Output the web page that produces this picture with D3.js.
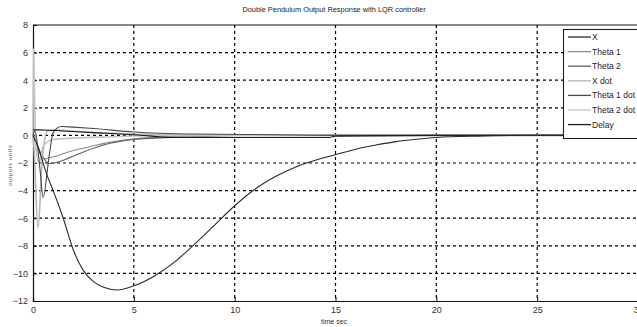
<!DOCTYPE html>
<html>
<head>
<meta charset="utf-8">
<script src="https://cdn.jsdelivr.net/npm/d3@7"></script>
<style>
  body { margin: 0; background: #fff; }
  svg { font-family: "Liberation Sans", Arial, sans-serif; }
</style>
</head>
<body>
<svg id="chart" width="637" height="327"></svg>
<script>
// tick labels
const xTicks = [0, 5, 10, 15, 20, 25, 30];
const yTicks = [8, 6, 4, 2, 0, -2, -4, -6, -8, -10, -12];

// series (time in sec, output value)
const xT      = [0, 0.25, 0.5, 0.75, 1, 1.5, 2, 2.5, 3, 3.5, 4.2, 5, 6, 7, 8, 9, 10, 11, 12, 13, 14, 15, 16, 17, 18, 19, 20, 22, 25, 30];
const xV      = [0, -0.8, -2, -3.1, -4.0, -6.0, -8.3, -9.8, -10.6, -11.0, -11.2, -10.9, -10.2, -9.2, -7.9, -6.5, -5.1, -3.9, -3.0, -2.3, -1.8, -1.4, -1.0, -0.7, -0.45, -0.28, -0.15, -0.05, 0, 0];
const th1T    = [0, 0.6, 1, 2, 3, 4, 5, 6, 8, 10, 15, 20, 30];
const th1V    = [0, -1.7, -1.55, -1.1, -0.75, -0.45, -0.25, -0.15, -0.05, 0, 0, 0, 0];
const th2T    = [0, 0.85, 1.5, 2.5, 3.5, 5, 6, 8, 10, 30];
const th2V    = [0, -2.05, -1.8, -1.2, -0.7, -0.3, -0.2, -0.1, 0, 0];
const xdT     = [0, 0.05, 0.25, 0.45, 0.7, 1, 2, 3, 5, 8, 30];
const xdV     = [0, -1, -6.7, -2, 0.3, 0.4, 0.3, 0.2, 0.1, 0, 0];
const th1dT   = [0, 0.1, 0.35, 0.5, 0.8, 1.0, 1.4, 2, 3, 5, 8, 12, 15, 30];
const th1dV   = [0, 0.3, -2.5, -4.5, -1.5, 0.2, 0.65, 0.6, 0.5, 0.25, 0.1, 0.05, 0, 0];
const th2dT   = [0, 0.03, 0.08, 0.15, 0.3, 0.5, 1, 2, 4, 6, 10, 30];
const th2dV   = [0, 6.3, 2.8, -1, -2, -0.8, -0.3, -0.2, -0.1, 0, 0, 0];
const delayT  = [0, 0.3, 1, 3, 5, 7, 10, 14.7, 15, 20, 30];
const delayV  = [0.4, 0.4, 0.35, 0.2, 0.05, -0.15, -0.15, -0.15, -0.05, 0, 0];

const names = ["X", "Theta 1", "Theta 2", "X dot", "Theta 1 dot", "Theta 2 dot", "Delay"];
const colors = ["#2a2a2a", "#8a8a8a", "#5e5e5e", "#b4b4b4", "#4a4a4a", "#c4c4c4", "#1e1e1e"];
const seriesT = [xT, th1T, th2T, xdT, th1dT, th2dT, delayT];
const seriesV = [xV, th1V, th2V, xdV, th1dV, th2dV, delayV];

const svg = d3.select("#chart");

const x = d3.scaleLinear().domain([0, 30]).range([33, 638]);
const y = d3.scaleLinear().domain([-12, 8]).range([301, 25]);

// title
svg.append("text")
  .attr("x", 334).attr("y", 12)
  .attr("text-anchor", "middle")
  .style("font-size", "7.4px")
  .attr("fill", "#222")
  .text("Double Pendulum Output Response with LQR controller");

// grid
const grid = svg.append("g");
grid.selectAll(".gx").data(xTicks.slice(1, -1)).enter().append("line")
  .attr("x1", d => x(d)).attr("x2", d => x(d))
  .attr("y1", y(8)).attr("y2", y(-12))
  .attr("stroke", "#000").attr("stroke-width", 1.2)
  .attr("stroke-dasharray", "3,3");
grid.selectAll(".gy").data(yTicks.slice(1, -1)).enter().append("line")
  .attr("x1", x(0)).attr("x2", x(30))
  .attr("y1", d => y(d)).attr("y2", d => y(d))
  .attr("stroke", "#000").attr("stroke-width", 1.2)
  .attr("stroke-dasharray", "3,3");

// axes
svg.append("g")
  .attr("transform", "translate(0," + y(-12) + ")")
  .call(d3.axisBottom(x).tickValues(xTicks).tickSize(-4).tickPadding(6))
  .call(g => g.select(".domain").attr("stroke", "#111").attr("stroke-width", 1.2))
  .call(g => g.selectAll("text").style("font-size", "9px").attr("fill", "#333"));
svg.append("g")
  .attr("transform", "translate(" + x(0) + ",0)")
  .call(d3.axisLeft(y).tickValues(yTicks).tickSize(-4).tickPadding(5))
  .call(g => g.select(".domain").attr("stroke", "#111").attr("stroke-width", 1.2))
  .call(g => g.selectAll("text").style("font-size", "9px").attr("fill", "#333"));
svg.append("line")
  .attr("x1", x(0)).attr("x2", x(30))
  .attr("y1", y(8)).attr("y2", y(8))
  .attr("stroke", "#111").attr("stroke-width", 1.2);

// axis labels
svg.append("text")
  .attr("x", 334).attr("y", 324)
  .attr("text-anchor", "middle")
  .style("font-size", "7px").attr("fill", "#333")
  .text("time sec");
svg.append("text")
  .attr("transform", "translate(12,165) rotate(-90)")
  .attr("text-anchor", "middle")
  .style("font-size", "5px").style("letter-spacing", "1px").attr("fill", "#444")
  .text("outputs units");

// lines
const line = d3.line().x(d => x(d[0])).y(d => y(d[1])).curve(d3.curveMonotoneX);
const order = [1, 2, 3, 5, 4, 6, 0];
svg.append("g").selectAll("path").data(order).enter().append("path")
  .attr("d", i => line(d3.zip(seriesT[i], seriesV[i])))
  .attr("fill", "none")
  .attr("stroke", i => colors[i])
  .attr("stroke-width", i => (i === 3 || i === 5) ? 1.6 : 1.1);

// legend
const lg = svg.append("g");
lg.append("rect")
  .attr("x", 563.5).attr("y", 29.5).attr("width", 80).attr("height", 109)
  .attr("fill", "#fff").attr("stroke", "#222").attr("stroke-width", 1.1);
const items = lg.selectAll(".item").data(names).enter().append("g")
  .attr("transform", (d, i) => "translate(0," + (37 + i * 14.6) + ")");
items.append("line")
  .attr("x1", 568).attr("x2", 591)
  .attr("stroke", (d, i) => colors[i]).attr("stroke-width", 1.3);
items.append("text")
  .attr("x", 592).attr("y", 3)
  .style("font-family", "'Liberation Sans Narrow', 'Liberation Sans', sans-serif")
  .style("font-size", "8.5px").attr("fill", "#222")
  .text(d => d);
</script>
</body>
</html>
